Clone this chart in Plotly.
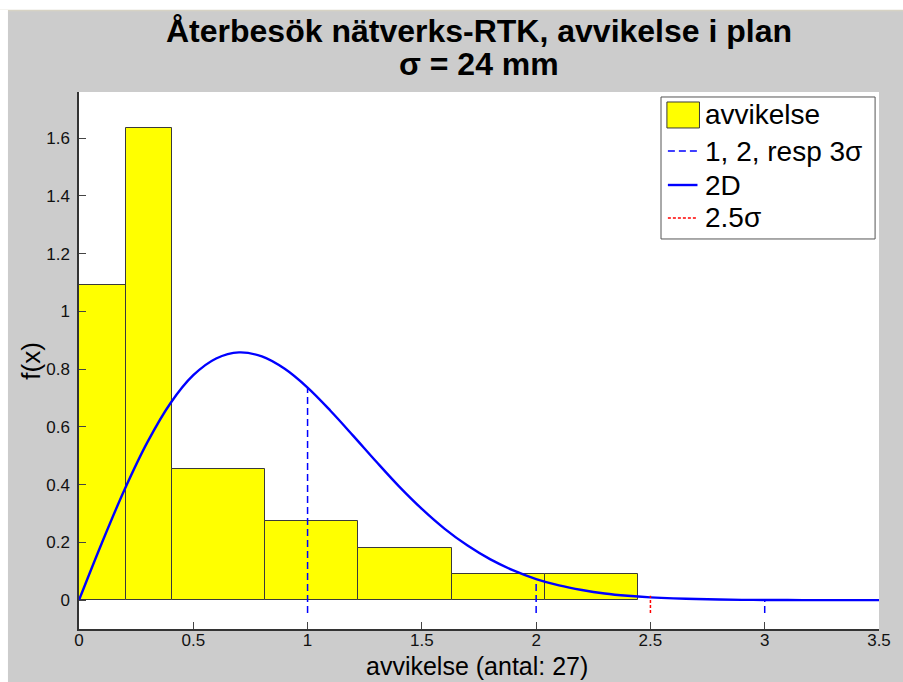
import plotly.graph_objects as go

# Histogram (density)
bin_edges = [0.0, 0.204, 0.407, 0.815, 1.222, 1.630, 2.037, 2.445]
bin_heights = [1.09, 1.636, 0.455, 0.273, 0.182, 0.091, 0.091]

# 2D curve
curve_x = [0.0, 0.1, 0.2, 0.3, 0.4, 0.5, 0.6, 0.7, 0.8, 0.9, 1.0, 1.1, 1.2, 1.3,
           1.4, 1.5, 1.6, 1.7, 1.8, 1.9, 2.0, 2.1, 2.2, 2.3, 2.4, 2.5, 2.6, 2.7,
           2.8, 2.9, 3.0, 3.1, 3.2, 3.3, 3.4, 3.5]
curve_y = [0.0, 0.198, 0.384, 0.548, 0.682, 0.779, 0.837, 0.858, 0.844, 0.801,
           0.736, 0.656, 0.569, 0.480, 0.394, 0.316, 0.247, 0.189, 0.141, 0.103,
           0.073, 0.051, 0.035, 0.023, 0.015, 0.0096, 0.006, 0.0037, 0.002, 0.001,
           0.0007, 0.0003, 0.0001, 0.0, 0.0, 0.0]

# sigma markers (1, 2, 3 sigma) and 2.5 sigma
sigma_x = [1.0, 2.0, 3.0]
sigma_top = [0.736, 0.073, 0.0007]
sigma_bottom = -0.045
red_x = 2.5
red_top = 0.015

xticks = [0, 0.5, 1, 1.5, 2, 2.5, 3, 3.5]
xticklabels = ["0", "0.5", "1", "1.5", "2", "2.5", "3", "3.5"]
yticks = [0, 0.2, 0.4, 0.6, 0.8, 1.0, 1.2, 1.4, 1.6]
yticklabels = ["0", "0.2", "0.4", "0.6", "0.8", "1", "1.2", "1.4", "1.6"]

title_l1 = "Återbesök nätverks-RTK, avvikelse i plan"
title_l2 = "σ = 24 mm"
xlabel = "avvikelse (antal: 27)"
ylabel = "f(x)"
legend_names = ["avvikelse", "1, 2, resp 3σ", "2D", "2.5σ"]

centers = [(a + b) / 2 for a, b in zip(bin_edges[:-1], bin_edges[1:])]
widths = [b - a for a, b in zip(bin_edges[:-1], bin_edges[1:])]

BLUE = "#0000ff"
RED = "#ff0000"
YELLOW = "#ffff00"
SIGMA_DASH = "7px,4px"
RED_DOT = "3px,2px"

fig = go.Figure()
fig.add_trace(go.Bar(
    x=centers, y=bin_heights, width=widths, name=legend_names[0],
    marker=dict(color=YELLOW, line=dict(color="#3a3a3a", width=1)),
))
sx, sy = [], []
for xv, top in zip(sigma_x, sigma_top):
    sx += [xv, xv, None]
    sy += [sigma_bottom, top, None]
fig.add_trace(go.Scatter(x=sx, y=sy, mode="lines", name=legend_names[1],
                         line=dict(color=BLUE, width=1.5, dash=SIGMA_DASH)))
fig.add_trace(go.Scatter(x=curve_x, y=curve_y, mode="lines", name=legend_names[2],
                         line=dict(color=BLUE, width=2.4, shape="spline")))
fig.add_trace(go.Scatter(x=[red_x, red_x], y=[sigma_bottom, red_top], mode="lines",
                         name=legend_names[3],
                         line=dict(color=RED, width=1.5, dash=RED_DOT)))

font_family = "Liberation Sans, Arial, sans-serif"

# MATLAB-style legend box in paper coordinates
leg_box = dict(x0=0.7275, x1=0.9951, y0=0.7263, y1=0.9907)
row_y = [0.9572, 0.8901, 0.8268, 0.7654]
sym_x0, sym_x1 = 0.7361, 0.7731
text_x = 0.7805

shapes = [
    dict(type="rect", xref="paper", yref="paper", **leg_box,
         fillcolor="#ffffff", line=dict(color="#555555", width=1), layer="above"),
    dict(type="rect", xref="paper", yref="paper", x0=0.7349, x1=0.7756,
         y0=0.9330, y1=0.9814, fillcolor=YELLOW,
         line=dict(color="#3a3a3a", width=1), layer="above"),
    dict(type="line", xref="paper", yref="paper", x0=sym_x0, x1=sym_x1,
         y0=row_y[1], y1=row_y[1], line=dict(color=BLUE, width=1.5, dash=SIGMA_DASH),
         layer="above"),
    dict(type="line", xref="paper", yref="paper", x0=sym_x0, x1=sym_x1,
         y0=row_y[2], y1=row_y[2], line=dict(color=BLUE, width=2.4), layer="above"),
    dict(type="line", xref="paper", yref="paper", x0=sym_x0, x1=sym_x1,
         y0=row_y[3], y1=row_y[3], line=dict(color=RED, width=1.5, dash=RED_DOT),
         layer="above"),
    # window edge strips (top and left)
    dict(type="rect", xref="paper", yref="paper", x0=-0.2, x1=1.2,
         y0=1.1527, y1=1.3, fillcolor="#ffffff", line=dict(width=0), layer="above"),
    dict(type="line", xref="paper", yref="paper", x0=-0.2, x1=1.2,
         y0=1.1518, y1=1.1518, line=dict(color="#d6d2c4", width=1.5), layer="above"),
    dict(type="rect", xref="paper", yref="paper", x0=-0.2, x1=-0.0888,
         y0=-0.2, y1=1.1527, fillcolor="#ffffff", line=dict(width=0), layer="above"),
]

annotations = [
    dict(text="<b>" + title_l1 + "</b>", xref="paper", yref="paper", x=0.5, y=1.1136,
         xanchor="center", yanchor="middle", showarrow=False,
         font=dict(size=32, family=font_family, color="#000000")),
    dict(text="<b>" + title_l2 + "</b>", xref="paper", yref="paper", x=0.5, y=1.0521,
         xanchor="center", yanchor="middle", showarrow=False,
         font=dict(size=32, family=font_family, color="#000000")),
    dict(text=xlabel, xref="paper", yref="paper", x=0.497, y=-0.069,
         xanchor="center", yanchor="middle", showarrow=False,
         font=dict(size=25, family=font_family, color="#000000")),
    dict(text=ylabel, xref="paper", yref="paper", x=-0.0604, y=0.499,
         xanchor="center", yanchor="middle", showarrow=False, textangle=-90,
         font=dict(size=26, family=font_family, color="#000000")),
]
for name, ry in zip(legend_names, row_y):
    annotations.append(dict(
        text=name, xref="paper", yref="paper", x=text_x, y=ry,
        xanchor="left", yanchor="middle", showarrow=False,
        font=dict(size=28, family=font_family, color="#000000")))

fig.update_layout(
    width=903, height=682, autosize=False,
    margin=dict(l=79, r=13, t=92, b=53),
    paper_bgcolor="#cccccc", plot_bgcolor="#ffffff",
    font=dict(family=font_family, color="#000000"),
    bargap=0, showlegend=False,
    xaxis=dict(
        range=[0, 3.5], tickmode="array", tickvals=xticks, ticktext=xticklabels,
        ticks="inside", ticklen=7, tickcolor="#444444",
        showline=True, linecolor="#333333", linewidth=1.5, mirror=False,
        showgrid=False, zeroline=False, ticklabelstandoff=-5,
        tickfont=dict(size=17, color="#111111"),
    ),
    yaxis=dict(
        range=[-0.1, 1.76], tickmode="array", tickvals=yticks, ticktext=yticklabels,
        ticks="inside", ticklen=7, tickcolor="#444444",
        showline=True, linecolor="#333333", linewidth=1.5, mirror=False,
        showgrid=False, zeroline=False, ticklabelstandoff=4,
        tickfont=dict(size=17, color="#111111"),
    ),
    annotations=annotations,
    shapes=shapes,
)

fig.write_html(
    "out.html",
    config={"responsive": False, "displayModeBar": False},
    post_script="document.body.style.margin='0px';document.body.style.overflow='hidden';",
)
